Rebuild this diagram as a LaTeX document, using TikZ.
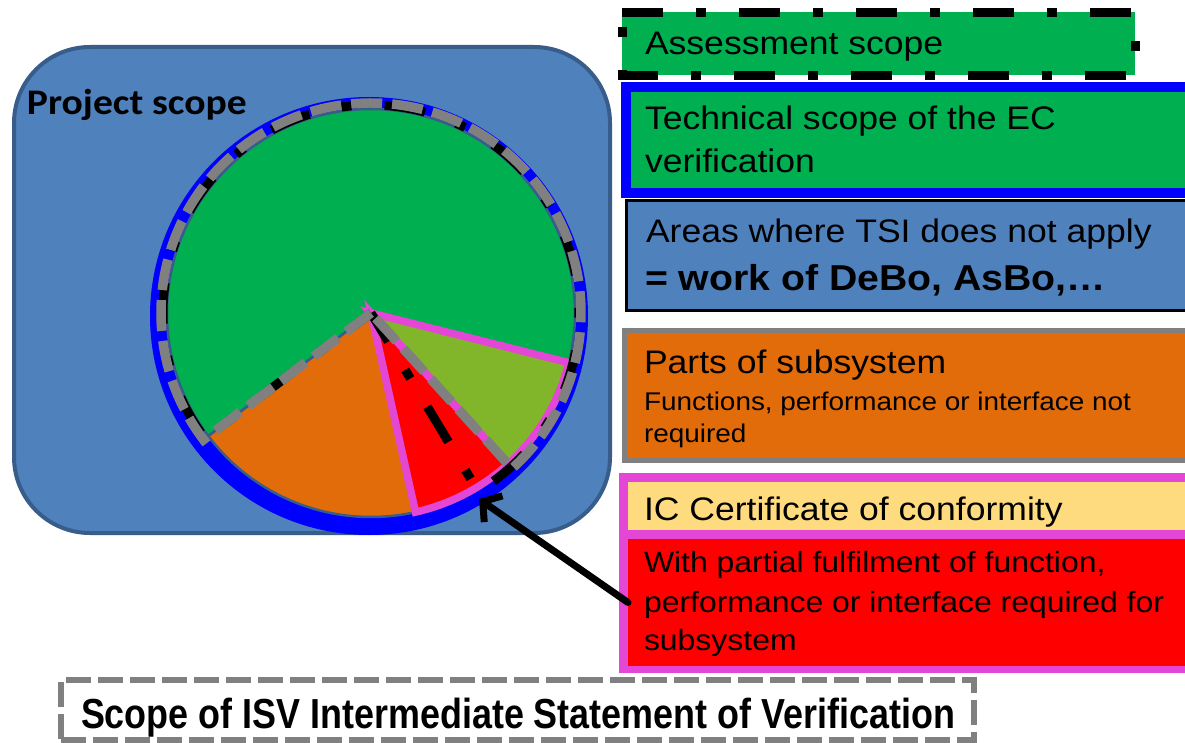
\documentclass[tikz,border=0pt]{standalone}
\usepackage{fontspec}
\usetikzlibrary{arrows.meta}

\newfontfamily\legendfamily[FakeStretch=1.09]{Liberation Sans}
\newfontfamily\isvfamily[FakeStretch=0.855]{Liberation Sans}
\newfontfamily\projfamily[FakeStretch=1.1]{Carlito}
\newcommand\legendbig{\legendfamily\fontsize{32.6pt}{39pt}\selectfont}
\newcommand\legendmid{\legendfamily\fontsize{29.3pt}{35pt}\selectfont}
\newcommand\legendsmall{\legendfamily\fontsize{25.6pt}{31pt}\selectfont}
\newcommand\legendbold{\legendfamily\bfseries\fontsize{36pt}{42pt}\selectfont}
\newcommand\isvtext{\isvfamily\bfseries\fontsize{42pt}{48pt}\selectfont}
\newcommand\projtext{\projfamily\bfseries\fontsize{36pt}{42pt}\selectfont}

\definecolor{scopeblue}{RGB}{79,129,189}
\definecolor{scopeedge}{RGB}{56,93,138}
\definecolor{pgreen}{RGB}{0,176,80}
\definecolor{polive}{RGB}{130,182,42}
\definecolor{porange}{RGB}{227,108,10}
\definecolor{ppink}{RGB}{228,70,214}
\definecolor{pyellow}{RGB}{255,219,128}
\definecolor{pgray}{RGB}{128,128,128}

\begin{document}
\begin{tikzpicture}[x=1pt,y=-1pt,
  legendbox/.style={anchor=north west, inner sep=0pt, outer sep=0pt, minimum width=600pt},
  legendtext/.style={anchor=base west, inner sep=0pt, outer sep=0pt},
  assessline/.style={draw=black, line width=9pt, dash pattern=on 41pt off 33pt on 10pt off 33pt},
  isvline/.style={draw=pgray, line width=9.5pt, dash pattern=on 31pt off 10pt},
  sliceedge/.style={draw=scopeedge, line width=2.5pt},
  icedge/.style={draw=ppink, line width=7.5pt},
  pointer/.style={line width=7pt, line cap=round, -{Straight Barb[length=13pt, width=32pt]}}]

\clip (0,0) rectangle (1185,743);
\fill[white] (0,0) rectangle (1185,743);

% project scope frame
\node[anchor=north west, inner sep=0pt, outer sep=0pt, fill=scopeblue, draw=scopeedge,
      line width=4pt, rounded corners=76pt, minimum width=596pt, minimum height=486pt]
      (project) at (14,47) {};
\node[legendtext] (projlabel) at (27,115) {\projtext Project scope};

% technical scope of the EC verification (blue ring)
\fill[blue] (369,316) circle[radius=219];

% pie slices around the common centre
\coordinate (O) at (371,313);
\filldraw[fill=pgreen, sliceedge] (O) -- ++(142.9:204) arc[start angle=142.9, end angle=374.1, radius=204] -- cycle;
\filldraw[fill=porange, sliceedge] (O) -- ++(77.4:204) arc[start angle=77.4, end angle=142.9, radius=204] -- cycle;
\filldraw[fill=polive, icedge] (O) -- ++(14.1:204) arc[start angle=14.1, end angle=47.8, radius=204] -- cycle;
\filldraw[fill=red, icedge] (O) -- ++(47.8:204) arc[start angle=47.8, end angle=77.4, radius=204] -- cycle;

% assessment scope and ISV scope outlines
\draw[assessline, dash phase=19pt] (O) -- ++(142.9:208) arc[start angle=142.9, end angle=419, radius=208] -- cycle;
\draw[isvline] (O) -- ++(142.9:210) arc[start angle=142.9, end angle=407.8, radius=210] -- cycle;

% legend: assessment scope
\node[legendbox, fill=pgreen, minimum width=513pt, minimum height=63pt] (assess) at (622,12.5) {};
\draw[assessline] (assess.north west) -- (assess.north east) -- (assess.south east) -- (assess.south west) -- cycle;
\node[legendtext] (assesslabel) at (645,55) {\legendbig Assessment scope};

% legend: technical scope
\node[legendbox, fill=pgreen, draw=blue, line width=10pt, minimum height=106pt] (tech) at (626,87) {};
\node[legendtext] (techlabel1) at (645,130) {\legendbig Technical scope of the EC};
\node[legendtext] (techlabel2) at (645,173) {\legendbig verification};

% legend: areas outside the TSI
\node[legendbox, fill=scopeblue, draw=black, line width=2.5pt, minimum height=110pt] (areas) at (626.5,200.5) {};
\node[legendtext] (areaslabel1) at (646,243) {\legendbig Areas where TSI does not apply};
\node[legendtext] (areaslabel2) at (645,290) {\legendbold = work of DeBo, AsBo,…};

% legend: parts of subsystem
\node[legendbox, fill=porange, draw=pgray, line width=5pt, minimum height=130pt] (parts) at (624,330.5) {};
\node[legendtext] (partslabel1) at (644,373) {\legendbig Parts of subsystem};
\node[legendtext] (partslabel2) at (644,410) {\legendsmall Functions, performance or interface not};
\node[legendtext] (partslabel3) at (644,442) {\legendsmall required};

% legend: IC certificate of conformity
\node[legendbox, fill=ppink, minimum width=620pt, minimum height=200pt] (icframe) at (619,473) {};
\node[legendbox, fill=pyellow, minimum height=48pt] (icyellow) at (628,482) {};
\node[legendbox, fill=red, minimum height=127pt] (icred) at (628,539) {};
\node[legendtext] (iclabel) at (644,520) {\legendbig IC Certificate of conformity};
\node[legendtext] (redlabel1) at (644,572) {\legendmid With partial fulfilment of function,};
\node[legendtext] (redlabel2) at (644,612) {\legendmid performance or interface required for};
\node[legendtext] (redlabel3) at (644,650) {\legendmid subsystem};

% pointer into the red slice
\coordinate (redtip) at (479,499);
\draw[pointer] (icred.west) -- (redtip);

% ISV scope label
\node[anchor=north west, inner sep=0pt, outer sep=0pt, draw=pgray, line width=6pt,
      dash pattern=on 25pt off 7pt, minimum width=913pt, minimum height=60pt] (isv) at (61,680) {};
\node[legendtext] (isvlabel) at (81,728) {\isvtext Scope of ISV Intermediate Statement of Verification};

\end{tikzpicture}
\end{document}
